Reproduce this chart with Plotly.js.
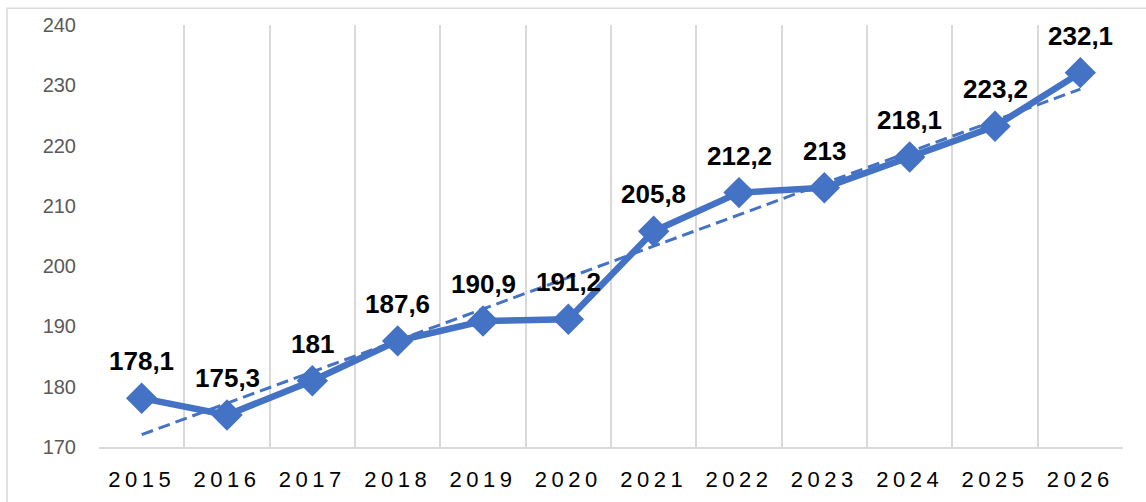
<!DOCTYPE html>
<html>
<head>
<meta charset="utf-8">
<script src="https://cdn.plot.ly/plotly-3.0.1.min.js"></script>
<style>
html,body{margin:0;padding:0;background:#fff;}
#chart{width:1146px;height:502px;}
.xtick text{letter-spacing:4.5px;}
</style>
</head>
<body>
<div id="chart"></div>
<script>
const years = ['2015','2016','2017','2018','2019','2020','2021','2022','2023','2024','2025','2026'];
const values = [178.1,175.3,181,187.6,190.9,191.2,205.8,212.2,213,218.1,223.2,232.1];
const labels = ['178,1','175,3','181','187,6','190,9','191,2','205,8','212,2','213','218,1','223,2','232,1'];

// linear trendline (least squares) from the data, like the spreadsheet trendline
const n = values.length;
const idx = values.map((v,i)=>i);
const mx = idx.reduce((a,b)=>a+b,0)/n;
const my = values.reduce((a,b)=>a+b,0)/n;
let sxy=0,sxx=0;
idx.forEach((x,i)=>{sxy+=(x-mx)*(values[i]-my);sxx+=(x-mx)*(x-mx);});
const slope=sxy/sxx, icpt=my-slope*mx;
const trend = idx.map(x=>icpt+slope*x);

const blue = '#4472C4';
const font = 'Arial, "Liberation Sans", sans-serif';

const traces = [
  {x: years, y: trend, type:'scatter', mode:'lines',
   line:{color:blue, width:3, dash:'12px,6px'}, hoverinfo:'skip', showlegend:false},
  {x: years, y: values, type:'scatter', mode:'lines+markers',
   line:{color:blue, width:6.5},
   marker:{symbol:'diamond', size:22, color:blue, line:{color:blue, width:2}},
   showlegend:false}
];

const annotations = years.map((y,i)=>({
  x: i, y: values[i], xref:'x', yref:'y', text: '<b>' + labels[i] + '</b>', showarrow:false,
  yanchor:'middle', xanchor:'center', yshift:37,
  font:{family:font, size:26, color:'#000000'}
}));

const layout = {
  width:1146, height:502,
  margin:{l:99, r:23, t:25, b:55, pad:0},
  paper_bgcolor:'#fff', plot_bgcolor:'#fff',
  showlegend:false,
  xaxis:{type:'category', range:[-0.5,11.5], tickson:'boundaries',
    showgrid:true, gridcolor:'#D9D9D9', gridwidth:2,
    showline:true, linecolor:'#D9D9D9', linewidth:2,
    ticks:'', ticklabelstandoff:12,
    tickfont:{family:font, size:22, color:'#000'}, zeroline:false, fixedrange:true},
  yaxis:{range:[170,240], dtick:10, tick0:170, showgrid:false, zeroline:false,
    showline:false, ticks:'', ticklabelstandoff:22,
    tickfont:{family:font, size:20, color:'#595959'}, fixedrange:true},
  annotations: annotations,
  shapes:[{type:'rect', xref:'paper', yref:'paper', layer:'below',
    x0:(7-99)/1024, x1:(1152-99)/1024, y0:(446.7-510)/420, y1:(446.7-10)/420,
    line:{color:'#D9D9D9', width:1.5}, fillcolor:'rgba(0,0,0,0)'}]
};

Plotly.newPlot('chart', traces, layout, {displayModeBar:false, staticPlot:true});
</script>
</body>
</html>
